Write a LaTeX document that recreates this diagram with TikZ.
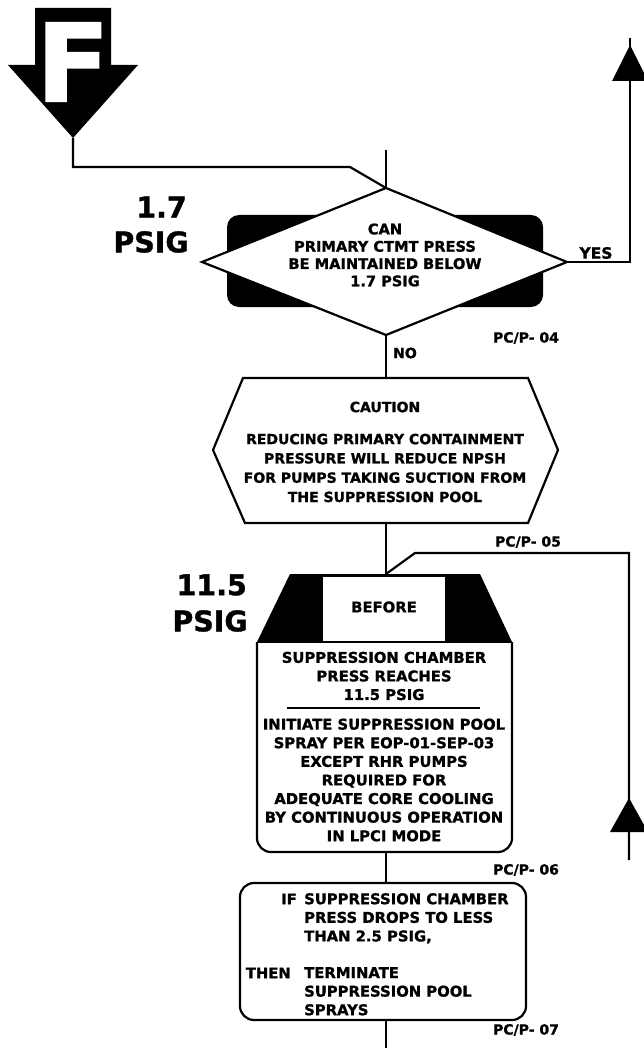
\documentclass[tikz,border=0pt]{standalone}
\usepackage{fontspec}
\newfontfamily\heavy{DejaVu Sans}[BoldFeatures={FakeBold=1.2}]
\tikzset{
  conn/.style={line width=2.2pt},
  outline/.style={line width=2.2pt, line join=miter},
  txt/.style={font=\heavy\bfseries\fontsize{14.6}{17.3}\selectfont, align=center, inner sep=0pt},
  boxtxt/.style={font=\heavy\bfseries\fontsize{14.8}{18.6}\selectfont, align=center, inner sep=0pt},
  cautxt/.style={font=\heavy\bfseries\fontsize{14}{19.3}\selectfont, align=center, inner sep=0pt},
  lbl/.style={font=\heavy\bfseries\fontsize{14}{16}\selectfont, inner sep=0pt},
  big/.style={font=\heavy\bfseries\fontsize{28.5}{30}\selectfont, inner sep=0pt, anchor=east},
}
\begin{document}
\begin{tikzpicture}[x=1pt,y=-1pt]
\useasboundingbox[fill=white] (0,0) rectangle (643,1048);

% ---- F entry marker
\fill (35,8) -- (111,8) -- (111,65) -- (138,65) -- (73,138) -- (8,65) -- (35,65) -- cycle;
\coordinate (Ftip) at (73,138);
\node[text=white, font=\heavy\bfseries\fontsize{108}{108}\selectfont, inner sep=0pt] (Fl) at (73,62) {F};

% ---- decision diamond
\fill[rounded corners=12] (227,215) rectangle (543,307);
\coordinate (dT) at (386,188);
\coordinate (dR) at (567,262);
\coordinate (dB) at (386,335);
\coordinate (dL) at (202,262);
\draw[outline, fill=white] (dT) -- (dR) -- (dB) -- (dL) -- cycle;
\node[txt] (dtext) at (385,255) {CAN\\PRIMARY CTMT PRESS\\BE MAINTAINED BELOW\\1.7 PSIG};

\node[big] (b17) at (187,207) {1.7};
\node[big] (bpsig1) at (189,242) {PSIG};

% entries into diamond
\coordinate (topin) at (386,150);
\draw[conn] (topin) -- (dT);
\draw[conn] (Ftip) -- (73,167) -- (350,167) -- (dT);

% YES branch
\coordinate (yesend) at (630,38);
\draw[conn] (dR) -- (630,262) -- (yesend);
\fill (630,45) -- (648,81) -- (612,81) -- cycle;
\node[lbl, font=\heavy\bfseries\fontsize{15.5}{17}\selectfont] (yes) at (596,253) {YES};

\node[lbl] (pc04) at (526,338) {PC/P- 04};
\node[lbl, anchor=west] (no) at (393,353) {NO};

% ---- caution hexagon
\coordinate (cT) at (386,378);
\coordinate (cB) at (386,523);
\draw[outline] (243,378) -- (528,378) -- (558,450) -- (528,523) -- (245,523) -- (213,450) -- cycle;
\node[cautxt] (caut) at (385,407) {CAUTION};
\node[cautxt] (cautx) at (385,468) {REDUCING PRIMARY CONTAINMENT\\PRESSURE WILL REDUCE NPSH\\FOR PUMPS TAKING SUCTION FROM\\THE SUPPRESSION POOL};
\draw[conn] (dB) -- (cT);

% ---- 11.5 PSIG box
\coordinate (bT) at (386,574);
\coordinate (bB) at (386,852);
\fill (290,574) -- (480,574) -- (512,642) -- (257,642) -- cycle;
\fill[white] (323,577) rectangle (445,641);
\node[boxtxt] (before) at (384,607) {BEFORE};
\draw[outline, rounded corners=14] (257,642) -- (257,852) -- (512,852) -- (512,642);
\draw[outline] (257,642) -- (512,642);
\node[boxtxt] (btop) at (384,676) {SUPPRESSION CHAMBER\\PRESS REACHES\\11.5 PSIG};
\draw[line width=1.6pt] (287,708) -- (480,708);
\node[boxtxt] (bbot) at (384,780) {INITIATE SUPPRESSION POOL\\SPRAY PER EOP-01-SEP-03\\EXCEPT RHR PUMPS\\REQUIRED FOR\\ADEQUATE CORE COOLING\\BY CONTINUOUS OPERATION\\IN LPCI MODE};

\node[big] (b115) at (247,585) {11.5};
\node[big] (bpsig2) at (248,621) {PSIG};

\draw[conn] (cB) -- (bT);
\node[lbl] (pc05) at (528,542) {PC/P- 05};

% loop-back from the right
\coordinate (loopin) at (629,860);
\draw[conn] (loopin) -- (629,553) -- (415,553) -- (bT);
\fill (629,798) -- (648,832) -- (610,832) -- cycle;

% ---- IF/THEN box
\coordinate (lT) at (386,883);
\coordinate (lB) at (386,1020);
\draw[outline, rounded corners=14] (240,883) rectangle (526,1020);
\draw[conn] (bB) -- (lT);
\node[lbl] (pc06) at (526,870) {PC/P- 06};
\node[boxtxt, anchor=east] (if) at (297,899) {IF};
\node[boxtxt, anchor=north west, align=left] (ift) at (304,893) {SUPPRESSION CHAMBER\\PRESS DROPS TO LESS\\THAN 2.5 PSIG,};
\node[boxtxt, anchor=east] (then) at (291,973) {THEN};
\node[boxtxt, anchor=north west, align=left] (thent) at (304,967) {TERMINATE\\SUPPRESSION POOL\\SPRAYS};

\coordinate (outend) at (386,1048);
\draw[conn] (lB) -- (outend);
\node[lbl] (pc07) at (526,1030) {PC/P- 07};
\end{tikzpicture}
\end{document}
